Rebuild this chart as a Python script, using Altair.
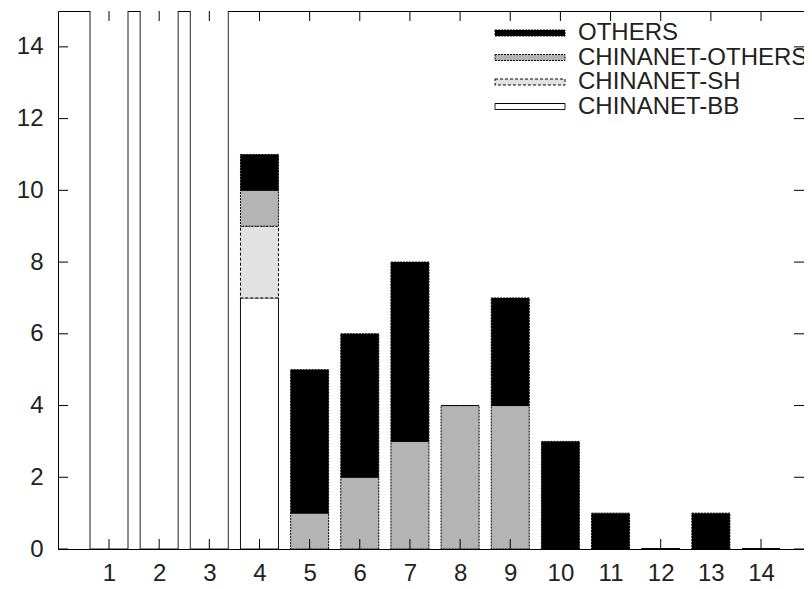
import altair as alt
import pandas as pd

hosts = list(range(1, 15))
series_names = ["OTHERS", "CHINANET-OTHERS", "CHINANET-SH", "CHINANET-BB"]
bb = [20, 20, 20, 7, 0, 0, 0, 0, 0, 0, 0, 0, 0, 0]
sh = [0, 0, 0, 2, 0, 0, 0, 0, 0, 0, 0, 0, 0, 0]
cn_others = [0, 0, 0, 1, 1, 2, 3, 4, 4, 0, 0, 0, 0, 0]
others = [0, 0, 0, 1, 4, 4, 5, 0, 3, 3, 1, 0, 1, 0]
y_ticks = [0, 2, 4, 6, 8, 10, 12, 14]
fills = ["#000000", "#b4b4b4", "#e2e2e2", "#ffffff"]
dashes = [[2, 1], [2, 1], [3, 2], [1, 0]]

stack = {"CHINANET-BB": (bb, 0), "CHINANET-SH": (sh, 1),
         "CHINANET-OTHERS": (cn_others, 2), "OTHERS": (others, 3)}
rows = []
for i, h in enumerate(hosts):
    for name, (vals, o) in stack.items():
        rows.append({"host": h, "series": name, "count": vals[i], "order": o})
df = pd.DataFrame(rows)

W, H = 746, 538
FONT = "Liberation Sans"
FS = 24

x_scale = alt.Scale(domain=[-0.017, 14.857], nice=False, zero=False, padding=0)
x_axis = alt.Axis(values=hosts, format="d", labelAngle=0, ticks=False, domain=False,
                  grid=False, labelFontSize=FS, labelFont=FONT, labelColor="#222",
                  labelPadding=12, title=None)
x_enc = alt.X("host:Q", scale=x_scale, axis=x_axis)
y_scale = alt.Scale(domain=[0, 15], nice=False, zero=True)
y_axis = alt.Axis(values=y_ticks, ticks=False, domain=False, grid=False,
                  labelFontSize=FS, labelFont=FONT, labelColor="#222",
                  labelPadding=15, title=None)

bars = alt.Chart(df).mark_bar(size=38, orient="vertical", stroke="black",
                              strokeWidth=1, clip=True).encode(
    x=x_enc,
    y=alt.Y("count:Q", stack="zero", scale=y_scale, axis=y_axis),
    color=alt.Color("series:N",
                    scale=alt.Scale(domain=series_names, range=fills),
                    legend=alt.Legend(
                        title=None, orient="none", legendX=460, legendY=10,
                        symbolType="M-10,-0.85L10,-0.85L10,0.85L-10,0.85Z",
                        symbolSize=49, symbolStrokeColor="black", symbolStrokeWidth=1,
                        symbolOpacity=1, labelFontSize=FS, labelFont=FONT,
                        labelColor="#222", labelOffset=36, rowPadding=0.5,
                        labelLimit=400)),
    strokeDash=alt.StrokeDash("series:N",
                              scale=alt.Scale(domain=series_names, range=dashes),
                              legend=None),
    order=alt.Order("order:Q"),
)

xt = pd.DataFrame({"host": hosts})
yt = pd.DataFrame({"count": y_ticks})

xt_bottom = alt.Chart(xt).mark_rule(color="black", strokeWidth=1).encode(
    x=x_enc, y=alt.value(H), y2=alt.value(H - 10))
xt_top = alt.Chart(xt).mark_rule(color="black", strokeWidth=1).encode(
    x=x_enc, y=alt.value(0), y2=alt.value(10))
yt_left = alt.Chart(yt).mark_rule(color="black", strokeWidth=1).encode(
    y=alt.Y("count:Q", scale=y_scale, axis=y_axis), x=alt.value(0), x2=alt.value(10))
yt_right = alt.Chart(yt).mark_rule(color="black", strokeWidth=1).encode(
    y=alt.Y("count:Q", scale=y_scale, axis=y_axis), x=alt.value(W - 10), x2=alt.value(W))

chart = alt.layer(bars, xt_bottom, xt_top, yt_left, yt_right).properties(
    width=W, height=H,
    autosize=alt.AutoSizeParams(type="none"),
    padding={"left": 50, "top": 3, "right": 0, "bottom": 32},
    background="white",
).configure_view(stroke="black", strokeWidth=1)

chart.save("out.html", embed_options={"renderer": "svg", "actions": False})
